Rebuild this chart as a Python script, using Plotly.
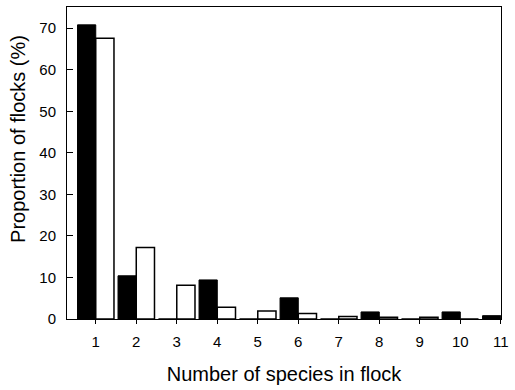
import plotly.graph_objects as go

categories = [1, 2, 3, 4, 5, 6, 7, 8, 9, 10, 11]
tick_labels = ["1", "2", "3", "4", "5", "6", "7", "8", "9", "10", "11"]
series_black = [70.8, 10.4, 0.0, 9.4, 0.0, 5.1, 0.0, 1.7, 0.0, 1.7, 0.8]
series_white = [67.6, 17.2, 8.1, 2.8, 1.9, 1.3, 0.6, 0.4, 0.4, 0.0, 0.0]
y_ticks = [0, 10, 20, 30, 40, 50, 60, 70]
y_title = "Proportion of flocks (%)"
x_title = "Number of species in flock"

fig = go.Figure()
fig.add_trace(go.Bar(x=categories, y=series_black, marker=dict(color="black", line=dict(color="black", width=1)),
                     showlegend=False))
fig.add_trace(go.Bar(x=categories, y=series_white, marker=dict(color="white", line=dict(color="black", width=1.5)),
                     showlegend=False))

fig.update_layout(
    width=515, height=390,
    margin=dict(l=67, r=6, t=7, b=71),
    barmode="group", bargap=0.1, bargroupgap=0,
    plot_bgcolor="white", paper_bgcolor="white",
    font=dict(family="Liberation Sans, Arial, sans-serif", color="black", size=15),
)
fig.add_annotation(text=y_title, textangle=-90, xref="paper", yref="paper",
                   x=-0.113, y=0.577, xanchor="center", yanchor="middle",
                   showarrow=False, font=dict(size=20))
fig.update_xaxes(
    range=[0.29, 11.005], tickmode="array", tickvals=categories, ticktext=tick_labels,
    ticks="outside", ticklen=4, tickcolor="black", showline=True, linecolor="black", linewidth=1,
    mirror=True, showgrid=False, zeroline=False, ticklabelstandoff=5, ticklabeloverflow="allow",
    title=dict(text=x_title, font=dict(size=20), standoff=17),
)
fig.update_yaxes(
    range=[0, 75.1], tickmode="array", tickvals=y_ticks,
    ticks="inside", ticklen=6, tickcolor="black", showline=True, linecolor="black", linewidth=1,
    mirror=True, showgrid=False, zeroline=False, ticklabelstandoff=7,
)
fig.write_html("out.html")
